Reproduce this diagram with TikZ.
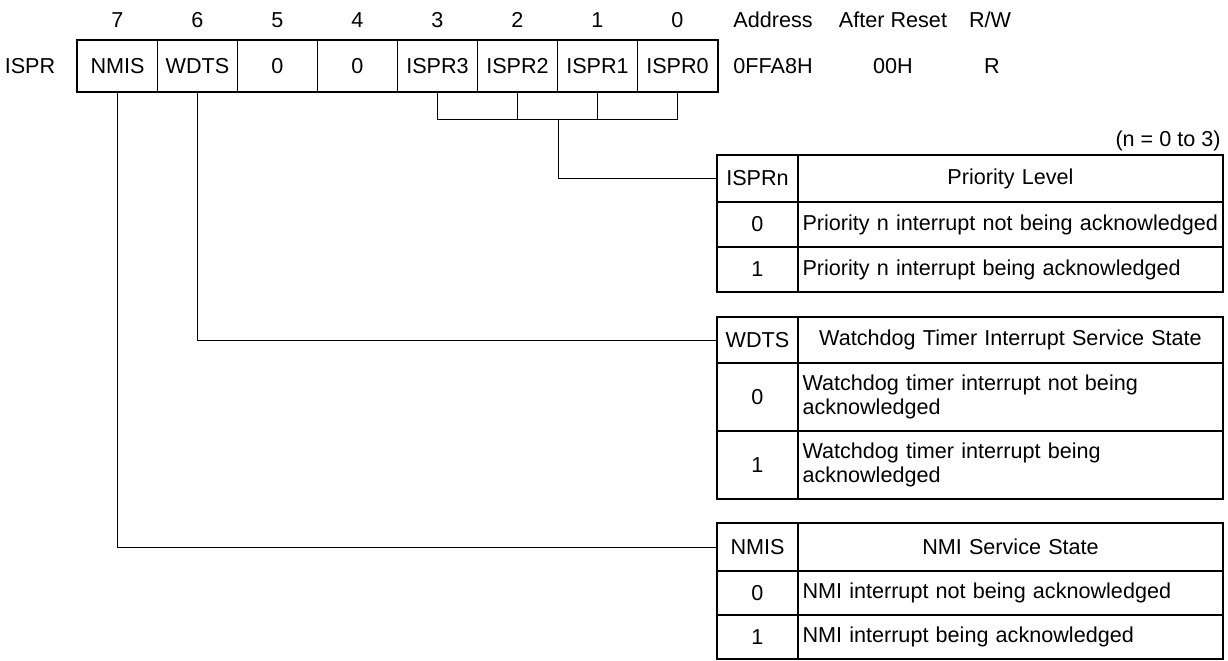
\documentclass[tikz,border=0pt]{standalone}
\usepackage{fontspec}
\setmainfont{Liberation Sans}
\tikzset{
 regcell/.style={draw, line width=0.5pt, minimum width=40pt, minimum height=25.5pt, inner sep=0pt, anchor=north west},
 keycell/.style={draw, line width=0.5pt, minimum width=40pt, inner sep=0pt, anchor=north west, align=center},
 desccell/.style={draw, line width=0.5pt, text width=208pt, inner xsep=2pt, inner ysep=0pt, anchor=north west, align=left},
 deschead/.style={desccell, align=center},
 frame/.style={line width=1pt},
 link/.style={line width=0.5pt},
 lbl/.style={inner sep=0pt}
}
\begin{document}
\begin{tikzpicture}[x=0.5pt,y=-0.5pt,font=\fontsize{10.8}{12}\selectfont]
\useasboundingbox (0,0) rectangle (1228,660);
% register
\foreach \i/\txt [count=\k from 0] in {7/NMIS,6/WDTS,5/0,4/0,3/ISPR3,2/ISPR2,1/ISPR1,0/ISPR0}{
  \node[regcell] (b\i) at (77+80*\k,40) {\txt};
  \node[lbl] (n\i) at ([yshift=10pt]b\i.north) {\i};
}
\draw[frame] (b7.north west) rectangle (b0.south east);
\node[lbl] (reglbl) at (30,66) {ISPR};
\node[lbl] (haddr) at (773,20) {Address};
\node[lbl] (hrst) at (893,20) {After Reset};
\node[lbl] (hrw) at (990,20) {R/W};
\node[lbl] (vaddr) at (773,66) {0FFA8H};
\node[lbl] (vrst) at (893,66) {00H};
\node[lbl] (vrw) at (992,66) {R};
\node[lbl, anchor=east] (note) at (1221,141) {(n = 0 to 3)};
% table 1
\node[keycell, minimum height=23pt] (t1k0) at (717,155) {ISPRn};
\node[deschead, minimum height=23pt] (t1d0) at (t1k0.north east) {Priority Level};
\node[keycell, minimum height=22pt] (t1k1) at (t1k0.south west) {0};
\node[desccell, minimum height=22pt] (t1d1) at (t1k1.north east) {\mbox{Priority n interrupt not being acknowledged}};
\node[keycell, minimum height=22pt] (t1k2) at (t1k1.south west) {1};
\node[desccell, minimum height=22pt] (t1d2) at (t1k2.north east) {Priority n interrupt being acknowledged};
\draw[frame] (t1k0.north west) rectangle (t1d2.south east);
\draw[frame] (t1k0.north east) -- (t1k2.south east);
% table 2
\node[keycell, minimum height=22.5pt] (t2k0) at (717,317) {WDTS};
\node[deschead, minimum height=22.5pt] (t2d0) at (t2k0.north east) {Watchdog Timer Interrupt Service State};
\node[keycell, minimum height=33.5pt] (t2k1) at (t2k0.south west) {0};
\node[desccell, minimum height=33.5pt] (t2d1) at (t2k1.north east) {Watchdog timer interrupt not being\\acknowledged};
\node[keycell, minimum height=33.5pt] (t2k2) at (t2k1.south west) {1};
\node[desccell, minimum height=33.5pt] (t2d2) at (t2k2.north east) {Watchdog timer interrupt being\\acknowledged};
\draw[frame] (t2k0.north west) rectangle (t2d2.south east);
\draw[frame] (t2k0.north east) -- (t2k2.south east);
% table 3
\node[keycell, minimum height=23.5pt] (t3k0) at (717,523) {NMIS};
\node[deschead, minimum height=23.5pt] (t3d0) at (t3k0.north east) {NMI Service State};
\node[keycell, minimum height=21.5pt] (t3k1) at (t3k0.south west) {0};
\node[desccell, minimum height=21.5pt] (t3d1) at (t3k1.north east) {NMI interrupt not being acknowledged};
\node[keycell, minimum height=21.5pt] (t3k2) at (t3k1.south west) {1};
\node[desccell, minimum height=21.5pt] (t3d2) at (t3k2.north east) {NMI interrupt being acknowledged};
\draw[frame] (t3k0.north west) rectangle (t3d2.south east);
\draw[frame] (t3k0.north east) -- (t3k2.south east);
% connectors
\coordinate (jb) at ([yshift=-13.5pt]b2.south east);
\draw[link] (b3.south) -- (b3.south |- jb) -- (b0.south |- jb) -- (b0.south);
\draw[link] (b2.south) -- (b2.south |- jb);
\draw[link] (b1.south) -- (b1.south |- jb);
\draw[link] (jb) -- (jb |- t1k0.west) -- (t1k0.west);
\draw[link] (b6.south) -- (b6.south |- t2k0.west) -- (t2k0.west);
\draw[link] (b7.south) -- (b7.south |- t3k0.west) -- (t3k0.west);
\end{tikzpicture}
\end{document}
